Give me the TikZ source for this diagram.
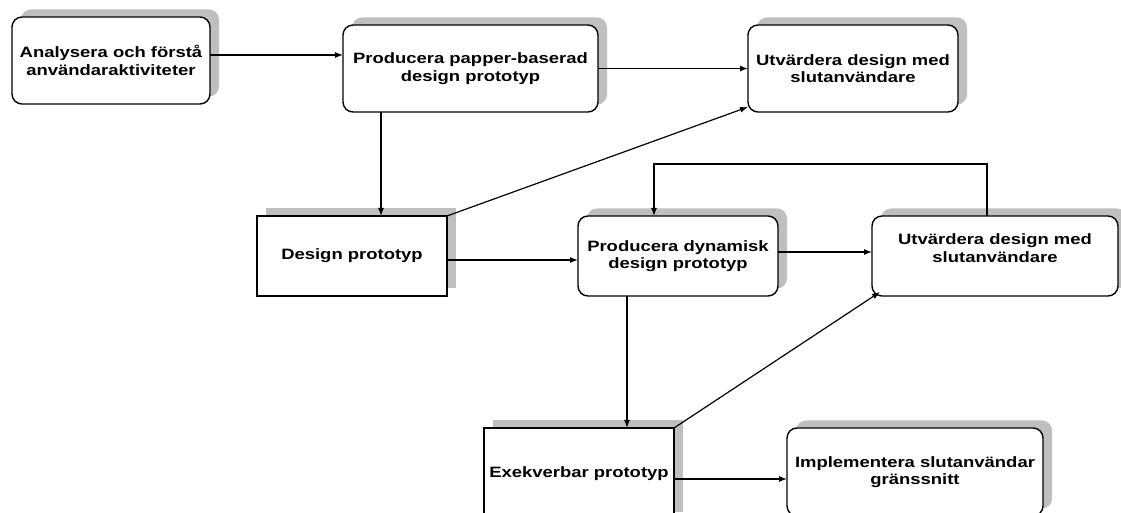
\documentclass[tikz,border=0pt]{standalone}
\usepackage{fontspec}
\setmainfont{Liberation Sans}[FakeStretch=1.23]
\usepackage{tikz}
\usetikzlibrary{arrows.meta,shadows}

\begin{document}
\begin{tikzpicture}[x=0.5pt,y=-0.5pt,
  font=\fontsize{7.5pt}{8.8pt}\selectfont\bfseries,
  artefakt/.style={draw,line width=0.7pt,fill=white,inner sep=0pt,outer sep=0pt,align=center,
    general shadow={fill=black!25,shadow xshift=4.5pt,shadow yshift=3.75pt}},
  aktivitet/.style={artefakt,rounded corners=5pt},
  pil/.style={-{Latex[length=4pt,width=3pt]},line width=0.6pt}]
\useasboundingbox (0,0) rectangle (1121,513);
\clip (0,0) rectangle (1121,513);
% top row: paper prototype
\node[aktivitet,minimum width=99pt,minimum height=43.5pt] (analys) at (111,60.5)
  {Analysera och förstå\\användaraktiviteter};
\node[aktivitet,minimum width=127.5pt,minimum height=43.5pt] (papper) at (470.5,68.5)
  {Producera papper-baserad\\design prototyp};
\node[aktivitet,minimum width=105pt,minimum height=43.5pt] (utv1) at (853,68.5)
  {Utvärdera design med\\slutanvändare};
% middle row: dynamic prototype
\node[artefakt,minimum width=95pt,minimum height=40pt] (design) at (352,256) {Design prototyp};
\node[aktivitet,minimum width=100pt,minimum height=40pt] (dyn) at (678,256)
  {Producera dynamisk\\design prototyp};
\node[aktivitet,minimum width=123pt,minimum height=40pt] (utv2) at (995,256) {};
\node[align=center] (utv2txt) at ([yshift=4pt]utv2.center) {Utvärdera design med\\slutanvändare};
% bottom row (cut off at the lower edge)
\node[artefakt,minimum width=95pt,minimum height=46pt] (exek) at (579,474) {Exekverbar prototyp};
\node[aktivitet,minimum width=128pt,minimum height=44pt] (impl) at (915,472)
  {Implementera slutanvändar\\gränssnitt};
% connectors
\draw[pil] ([yshift=2.75pt]analys.east) -- ([yshift=6.75pt]papper.west);
\draw[pil] (papper.east) -- (utv1.west);
\draw[pil] ([xshift=-44.75pt]papper.south) -- ([xshift=14.5pt]design.north);
\draw[pil] (design.north east) -- ([yshift=2.5pt]utv1.south west);
\draw[pil] ([yshift=-2pt]design.east) -- ([yshift=-2pt]dyn.west);
\draw[pil] ([yshift=2pt]dyn.east) -- ([yshift=2pt]utv2.west);
\draw[pil] ([xshift=-4pt]utv2.north) -- ++(0,-52) -| ([xshift=-12pt]dyn.north);
\draw[pil] ([xshift=-25.5pt]dyn.south) -- ([xshift=24pt]exek.north);
\draw[pil] (exek.north east) -- ([xshift=4pt,yshift=2pt]utv2.south west);
\draw[pil] ([yshift=-2.5pt]exek.east) -- ([yshift=-3.5pt]impl.west);
\end{tikzpicture}
\end{document}
